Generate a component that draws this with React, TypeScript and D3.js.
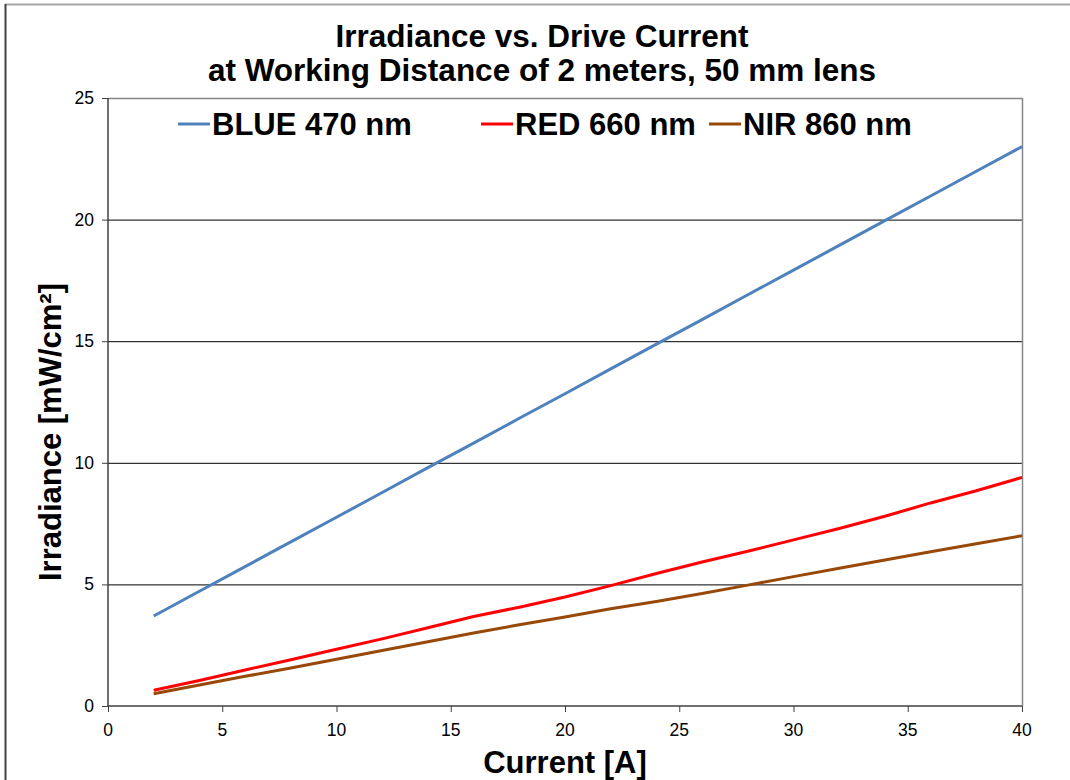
import React from 'react';
import * as d3 from 'd3';

// Values
const currents = [2, 4, 6, 8, 10, 12, 14, 16, 18, 20, 22, 24, 26, 28, 30, 32, 34, 36, 38, 40];
const blue470 = [3.70, 4.72, 5.73, 6.75, 7.76, 8.78, 9.80, 10.81, 11.83, 12.84, 13.86, 14.88, 15.89, 16.91, 17.92, 18.94, 19.96, 20.97, 21.99, 23.0];
const red660 = [0.65, 1.05, 1.48, 1.90, 2.33, 2.76, 3.22, 3.68, 4.06, 4.48, 4.95, 5.45, 5.92, 6.36, 6.83, 7.30, 7.80, 8.35, 8.85, 9.40];
const nir860 = [0.50, 0.86, 1.22, 1.56, 1.92, 2.28, 2.64, 3.00, 3.34, 3.66, 4.00, 4.30, 4.63, 4.97, 5.32, 5.66, 6.00, 6.34, 6.67, 7.00];

const xTicks = [0, 5, 10, 15, 20, 25, 30, 35, 40];
const yTicks = [0, 5, 10, 15, 20, 25];

const series = [
  { name: 'BLUE 470 nm', values: blue470, color: '#4F81BD' },
  { name: 'RED 660 nm', values: red660, color: '#FF0000' },
  { name: 'NIR 860 nm', values: nir860, color: '#984807' },
];

const W = 1070;
const H = 780;
const margin = { top: 98, right: 48, bottom: 74, left: 108 };
const font = 'Arial, "Liberation Sans", sans-serif';

const App: React.FC = () => {
  const x = d3.scaleLinear().domain([0, 40]).range([margin.left, W - margin.right]);
  const y = d3.scaleLinear().domain([0, 25]).range([H - margin.bottom, margin.top]);

  const line = d3.line<number>()
    .x((d, i) => x(currents[i]))
    .y(d => y(d));

  const x0 = x(0), x1 = x(40), y0 = y(0), y1 = y(25);

  // legend positions (x start of each line sample)
  const legendX = [178, 481, 709];
  const legendY = 124;

  return (
    <svg width={W} height={H} style={{ position: 'absolute', left: 0, top: 0, background: '#fff' }}>
      {/* outer frame */}
      <line x1={5} x2={W} y1={4.5} y2={4.5} stroke="#A6A6A6" strokeWidth={2} />
      <line x1={5.5} x2={5.5} y1={4} y2={H} stroke="#404040" strokeWidth={2} />

      {/* title */}
      <text x={542} y={47} textAnchor="middle" fontFamily={font} fontWeight="bold" fontSize={31.5}>
        Irradiance vs. Drive Current
      </text>
      <text x={542} y={81} textAnchor="middle" fontFamily={font} fontWeight="bold" fontSize={31.5}>
        at Working Distance of 2 meters, 50 mm lens
      </text>

      {/* gridlines */}
      {yTicks.filter(t => t > 0 && t < 25).map(t => (
        <line key={'g' + t} x1={x0} x2={x1} y1={y(t) + 0.5} y2={y(t) + 0.5} stroke="#000" strokeWidth={1} />
      ))}

      {/* plot border top/right */}
      <line x1={x0} x2={x1} y1={y1 + 0.5} y2={y1 + 0.5} stroke="#868686" strokeWidth={1.5} />
      <line x1={x1 + 0.5} x2={x1 + 0.5} y1={y1} y2={y0} stroke="#868686" strokeWidth={1.5} />

      {/* axes */}
      <line x1={x0} x2={x0} y1={y1} y2={y0} stroke="#404040" strokeWidth={1.5} />
      <line x1={x0} x2={x1} y1={y0} y2={y0} stroke="#404040" strokeWidth={1.5} />
      {yTicks.map(t => (
        <g key={'y' + t}>
          <line x1={x0 - 6} x2={x0} y1={y(t) + 0.5} y2={y(t) + 0.5} stroke="#404040" strokeWidth={1} />
          <text x={x0 - 14} y={y(t) + 6} textAnchor="end" fontFamily={font} fontSize={17.5}>{t}</text>
        </g>
      ))}
      {xTicks.map(t => (
        <g key={'x' + t}>
          <line x1={x(t) + 0.5} x2={x(t) + 0.5} y1={y0} y2={y0 + 6} stroke="#404040" strokeWidth={1} />
          <text x={x(t)} y={y0 + 30} textAnchor="middle" fontFamily={font} fontSize={17.5}>{t}</text>
        </g>
      ))}

      {/* axis titles */}
      <text x={565} y={773} textAnchor="middle" fontFamily={font} fontWeight="bold" fontSize={31}>
        Current [A]
      </text>
      <text transform={`translate(61, 432) rotate(-90)`} textAnchor="middle"
        fontFamily={font} fontWeight="bold" fontSize={31}>
        Irradiance [mW/cm²]
      </text>

      {/* series */}
      {series.map(s => (
        <path key={s.name} d={line(s.values) || ''} fill="none" stroke={s.color} strokeWidth={3} />
      ))}

      {/* legend */}
      {series.map((s, i) => (
        <g key={'l' + s.name}>
          <line x1={legendX[i]} x2={legendX[i] + 32} y1={legendY} y2={legendY} stroke={s.color} strokeWidth={3} />
          <text x={legendX[i] + 34} y={legendY + 11} fontFamily={font} fontWeight="bold" fontSize={31}>
            {s.name}
          </text>
        </g>
      ))}
    </svg>
  );
};

export default App;
